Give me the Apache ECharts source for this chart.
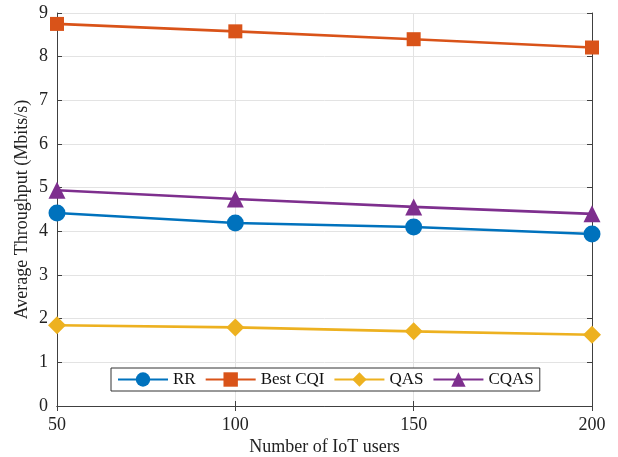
<!DOCTYPE html>
<html>
<head>
<meta charset="utf-8">
<script src="https://cdn.jsdelivr.net/npm/echarts@6/dist/echarts.min.js"></script>
<style>html,body{margin:0;padding:0;background:#fff;}#c{width:618px;height:457px;}</style>
</head>
<body>
<div id="c"></div>
<script>
const users = [50, 100, 150, 200];
const rr = [4.42, 4.19, 4.10, 3.94];
const bestCqi = [8.75, 8.58, 8.40, 8.21];
const qas = [1.85, 1.80, 1.71, 1.63];
const cqas = [4.94, 4.74, 4.56, 4.40];
const xTicks = [50, 100, 150, 200];
const yTicks = [0, 1, 2, 3, 4, 5, 6, 7, 8, 9];

const font = '"Liberation Serif", "Times New Roman", serif';
const axisCol = '#404040';
const chart = echarts.init(document.getElementById('c'));
function pts(v){ return users.map((u,i)=>[u, v[i]]); }
function ser(name, data, color, symbol, size){
  return {name, type:'line', data:pts(data), color, symbol, symbolSize:size,
    lineStyle:{width:2.6, color}, itemStyle:{color}, xAxisIndex:0, yAxisIndex:0,
    z: 3};
}
chart.setOption({
  animation:false,
  textStyle:{fontFamily:font},
  grid:{left:57, right:26, top:13, bottom:51, containLabel:false, outerBoundsMode:'none'},
  legend:{
    left:111, top:368, width:440, height:25,
    orient:'horizontal',
    backgroundColor:'#fff', borderColor:'#333', borderWidth:1, borderRadius:0,
    padding:[3,6,3,6], itemGap:9, itemWidth:50, itemHeight:18,
    textStyle:{fontFamily:font, fontSize:17, color:'#111'},
    data:['RR','Best CQI','QAS','CQAS']
  },
  xAxis:[{
    type:'value', min:50, max:200, interval:50,
    name:'Number of IoT users', nameLocation:'middle', nameGap:32, nameMoveOverlap:false,
    nameTextStyle:{fontFamily:font, fontSize:18, color:'#222'},
    axisLine:{show:true, lineStyle:{color:axisCol, width:1}},
    axisTick:{show:true, inside:true, length:5, lineStyle:{color:axisCol}},
    axisLabel:{fontFamily:font, fontSize:18, color:'#222', margin:10},
    splitLine:{show:true, lineStyle:{color:'#e3e3e3', width:1}}
  },{
    type:'value', min:50, max:200, interval:50, position:'top',
    axisLine:{show:true, lineStyle:{color:axisCol, width:1}},
    axisTick:{show:true, inside:true, length:5, lineStyle:{color:axisCol}},
    axisLabel:{show:false}, splitLine:{show:false}
  }],
  yAxis:[{
    type:'value', min:0, max:9, interval:1,
    name:'Average Throughput (Mbits/s)', nameLocation:'middle', nameGap:26, nameMoveOverlap:false,
    nameTextStyle:{fontFamily:font, fontSize:18, color:'#222'},
    axisLine:{show:true, lineStyle:{color:axisCol, width:1}},
    axisTick:{show:true, inside:true, length:5, lineStyle:{color:axisCol}},
    axisLabel:{fontFamily:font, fontSize:18, color:'#222', margin:9},
    splitLine:{show:true, lineStyle:{color:'#e3e3e3', width:1}}
  },{
    type:'value', min:0, max:9, interval:1, position:'right',
    axisLine:{show:true, lineStyle:{color:axisCol, width:1}},
    axisTick:{show:true, inside:true, length:5, lineStyle:{color:axisCol}},
    axisLabel:{show:false}, splitLine:{show:false}
  }],
  series:[
    ser('RR', rr, '#0072BD', 'circle', 17),
    ser('Best CQI', bestCqi, '#D95319', 'rect', 14),
    ser('QAS', qas, '#EDB120', 'diamond', 18),
    ser('CQAS', cqas, '#7E2F8E', 'triangle', 17)
  ]
});
</script>
</body>
</html>
